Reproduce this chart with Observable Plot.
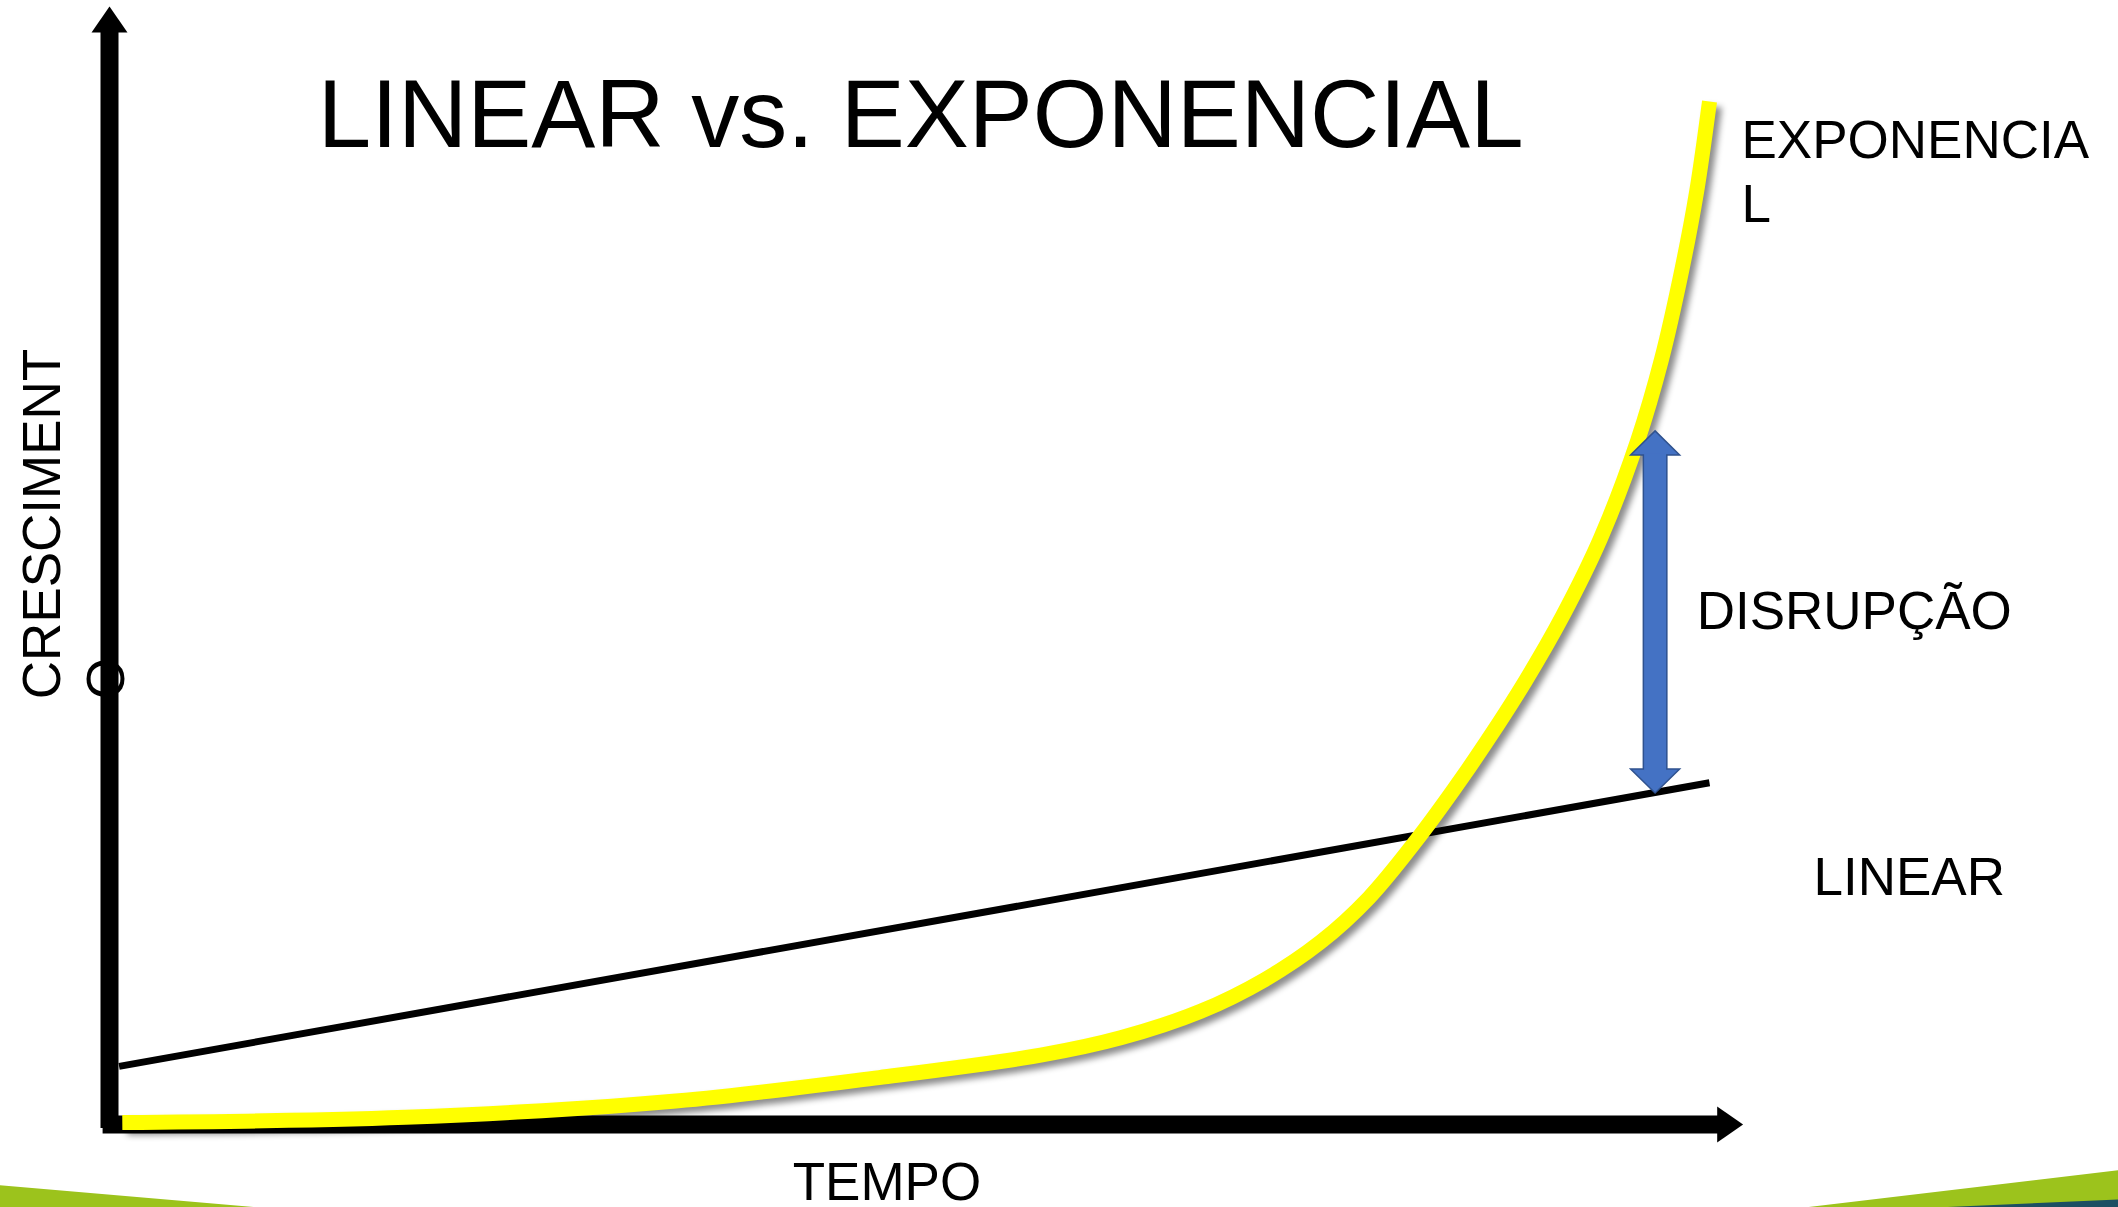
<!DOCTYPE html>
<html><head><meta charset="utf-8">
<script src="https://cdn.jsdelivr.net/npm/d3@7"></script>
<script src="https://cdn.jsdelivr.net/npm/@observablehq/plot@0.6"></script>
<style>html,body{margin:0;padding:0;background:#fff;overflow:hidden}</style>
</head><body><div id="chart"></div>
<script>
// ---- texts ----
const titleText = "LINEAR vs. EXPONENCIAL";
const xLabel = "TEMPO";
const yLabel = "CRESCIMENT\nO";
const expLabel = "EXPONENCIA\nL";
const linLabel = "LINEAR";
const gapLabel = "DISRUPÇÃO";

// ---- series (tempo 0–100, crescimento 0–100) ----
const linearT = [0.6, 100];
const linearV = [5.7, 33.5];

const expT = [0.8, 18.5, 35.4, 48.1, 58.2, 63.2, 68.2, 72.2, 75.7, 78.7, 81.7, 84.0, 86.1, 88.5, 90.8, 93.2, 95.5, 97.0, 98.3, 99.2, 100];
const expV = [0.2, 0.7, 2.3, 4.6, 6.8, 8.5, 11.1, 14.2, 17.9, 22.2, 27.9, 32.8, 37.6, 43.5, 49.8, 57.5, 67.0, 75.0, 84.0, 91.5, 100.3];

// disruption gap (between the two curves)
const gapT = [96.6];
const gapLow = [32.5];
const gapHigh = [68.0];

// axes (start, arrow tip)
const axisTempo = [-0.4, 102.1];
const axisCresc = [-0.4, 109.6];

// decorative slide bands at the bottom
const limeLeftT = [-6.9, 9.5];
const limeLeftV = [-6.0, -8.2];
const limeRightT = [105.9, 125.7];
const limeRightV = [-8.2, -4.5];
const tealT = [114.0, 125.7];
const tealV = [-8.2, -7.4];

// ---- build tables ----
const zip = (a, b) => a.map((t, i) => ({t, v: b[i]}));
const linearData = zip(linearT, linearV);
const expData = zip(expT, expV);
const gapData = gapT.map((t, i) => ({t, lo: gapLow[i], hi: gapHigh[i]}));

function headSymbol(lenRatio) {
  return {draw(ctx, size) {
    const r = Math.sqrt(size / Math.PI);
    const L = r * lenRatio;
    ctx.moveTo(0, 0);
    ctx.lineTo(r, L);
    ctx.lineTo(-r, L);
    ctx.closePath();
  }};
}
const axisHead = headSymbol(1.44);
const gapHead = headSymbol(0.98);

const font = "'Liberation Sans', Arial, Helvetica, sans-serif";
const band = (T, V, fill) => Plot.areaY(zip(T, V), {x: "t", y1: -9, y2: "v", fill, curve: "linear"});

const chart = Plot.plot({
  width: 2118,
  height: 1207,
  margin: 0,
  x: {domain: [0, 100], range: [109, 1709], axis: null},
  y: {domain: [0, 100], range: [1124, 104], axis: null},
  style: {fontFamily: font, background: "#fff", color: "#000", overflow: "hidden"},
  marks: [
    band(limeLeftT, limeLeftV, "#9cc31c"),
    band(limeRightT, limeRightV, "#9cc31c"),
    band(tealT, tealV, "#1b4f63"),

    // axes
    Plot.ruleX([0], {y1: axisCresc[0], y2: axisCresc[1] - 1.8, stroke: "#000", strokeWidth: 18}),
    Plot.ruleY([0], {x1: axisTempo[0], x2: axisTempo[1] - 1.2, stroke: "#000", strokeWidth: 18}),
    Plot.dot([{t: 0, v: axisCresc[1], rot: 0}, {t: axisTempo[1], v: 0, rot: 90}],
      {x: "t", y: "v", rotate: "rot", symbol: axisHead, r: 18, fill: "#000", stroke: "none"}),

    // linear growth
    Plot.line(linearData, {x: "t", y: "v", stroke: "#000", strokeWidth: 7, strokeLinecap: "butt"}),

    // exponential growth with shadow
    Plot.line(expData, {x: "t", y: "v", stroke: "#ffff00", strokeWidth: 15, curve: "catmull-rom",
      strokeLinecap: "butt", imageFilter: "drop-shadow(5px 5px 3px rgba(0,0,0,0.45))"}),

    // disruption double arrow
    Plot.link(gapData, {x1: "t", x2: "t", y1: d => d.lo + 2.35, y2: d => d.hi - 2.35, stroke: "#2f528f", strokeWidth: 25}),
    Plot.dot(gapData, {x: "t", y: "hi", symbol: gapHead, r: 24.5, rotate: 0, fill: "#4472c4", stroke: "#2f528f", strokeWidth: 1.5}),
    Plot.dot(gapData, {x: "t", y: "lo", symbol: gapHead, r: 24.5, rotate: 180, fill: "#4472c4", stroke: "#2f528f", strokeWidth: 1.5}),
    Plot.link(gapData, {x1: "t", x2: "t", y1: d => d.lo + 2.2, y2: d => d.hi - 2.2, stroke: "#4472c4", strokeWidth: 22}),

    // texts
    Plot.text([titleText], {x: 50.7, y: 95.8, text: d => d, fontSize: 96, textAnchor: "middle", lineAnchor: "bottom", fill: "#000"}),
    Plot.text([expLabel], {x: 102.0, y: 88.5, text: d => d, fontSize: 53, textAnchor: "start", lineAnchor: "bottom", lineHeight: 1.2, fill: "#000"}),
    Plot.text([gapLabel], {x: 99.2, y: 48.6, text: d => d, fontSize: 53, textAnchor: "start", lineAnchor: "bottom", fill: "#000"}),
    Plot.text([linLabel], {x: 106.5, y: 22.5, text: d => d, fontSize: 53, textAnchor: "start", lineAnchor: "bottom", fill: "#000"}),
    Plot.text([xLabel], {x: 42.7, y: -7.45, text: d => d, fontSize: 53, textAnchor: "start", lineAnchor: "bottom", fill: "#000"}),
    Plot.text([yLabel], {x: 0.875, y: 41.7, text: d => d, fontSize: 53, rotate: -90, textAnchor: "start", lineAnchor: "bottom", lineHeight: 1.2, fill: "#000"})
  ]
});
document.getElementById("chart").appendChild(chart);
</script>
</body></html>
